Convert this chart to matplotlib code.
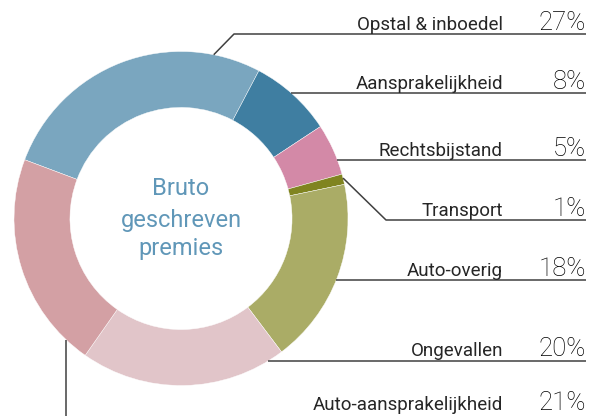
import numpy as np
import matplotlib
matplotlib.use("Agg")
import matplotlib.pyplot as plt

# ---- data ----
categories = ["Opstal & inboedel", "Aansprakelijkheid", "Rechtsbijstand", "Transport",
              "Auto-overig", "Ongevallen", "Auto-aansprakelijkheid"]
values = [27, 8, 5, 1, 18, 20, 21]
pct_labels = ["27%", "8%", "5%", "1%", "18%", "20%", "21%"]
colors = ["#7AA6BF", "#3F7EA1", "#D389A7", "#808420", "#AAAC66", "#E1C5C9", "#D3A0A4"]
center_title = ["Bruto", "geschreven", "premies"]

# ---- layout (image pixel coordinates, y downward) ----
W, H = 591, 416
cx, cy = 181, 218.5
R = 167
ring = 0.335
start_visual = 159.4          # degrees, counter-clockwise from +x, y up
row_y = [34, 93, 160, 220, 280, 361, 417.5]
label_right = 503
pct_right = 586
line_right = 586
line_col = "#404040"
lw = 1.1

fig = plt.figure(figsize=(W / 100, H / 100), dpi=100)
ax = fig.add_axes([0, 0, 1, 1])

# y axis inverted -> data angle = -visual angle; clockwise visually = counterclock in data
ax.pie(values, colors=colors, startangle=-start_visual, counterclock=True,
       radius=R, center=(cx, cy),
       wedgeprops=dict(width=R * ring, edgecolor="white", linewidth=0.3))
ax.set_xlim(0, W)
ax.set_ylim(H, 0)
ax.set_aspect("equal")
ax.axis("off")

def circ_pt(vis_angle):
    a = np.deg2rad(vis_angle)
    return cx + R * np.cos(a), cy - R * np.sin(a)

def x_on_circle(y):
    return cx + np.sqrt(max(R ** 2 - (y - cy) ** 2, 0))

kw = dict(color=line_col, lw=lw, solid_capstyle="butt")
# Opstal: angled leader
p0 = circ_pt(78.7)
ax.plot([p0[0], 234, line_right], [p0[1], row_y[0], row_y[0]], **kw)
# Aansprakelijkheid, Rechtsbijstand
for i in (1, 2):
    ax.plot([x_on_circle(row_y[i]), line_right], [row_y[i], row_y[i]], **kw)
# Transport: angled leader
p3 = circ_pt(14.0)
ax.plot([p3[0], 386, line_right], [p3[1], row_y[3], row_y[3]], **kw)
# Auto-overig, Ongevallen
for i in (4, 5):
    ax.plot([x_on_circle(row_y[i]), line_right], [row_y[i], row_y[i]], **kw)
# Auto-aansprakelijkheid: vertical from left-bottom
xv = 66
yv = cy + np.sqrt(R ** 2 - (xv - cx) ** 2)
ax.plot([xv, xv, line_right], [yv, row_y[6], row_y[6]], **kw)

font = "Roboto"
text_base = [30, 89, 155.5, 215.5, 275.5, 356.5, 410.5]
for lab, pct, yb in zip(categories, pct_labels, text_base):
    ax.text(label_right, yb, lab, ha="right", va="baseline", fontsize=13.5,
            family=font, color="#262626")
    ax.text(pct_right, yb, pct, ha="right", va="baseline", fontsize=18.5,
            family=font, fontweight="light", color="#000000")

for t, yb in zip(center_title, [195, 226.5, 255.5]):
    ax.text(cx, yb, t, ha="center", va="baseline", fontsize=17,
            family=font, color="#6097B8")

fig.savefig("out.png", dpi=100)
